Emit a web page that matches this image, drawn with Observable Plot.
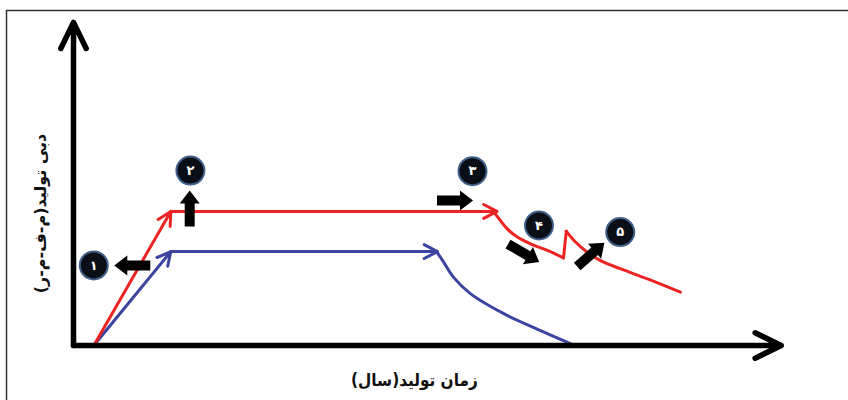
<!DOCTYPE html>
<html><head><meta charset="utf-8">
<script src="https://cdn.jsdelivr.net/npm/d3@7"></script>
<script src="https://cdn.jsdelivr.net/npm/@observablehq/plot@0.6"></script>
<style>html,body{margin:0;padding:0;background:#fff;overflow:hidden}</style>
</head><body><div id="chart"></div>
<script>
// ---- data (time units, rate units) ----
const redRampT = [2.9, 13.9, 60.5];
const redRampQ = [0, 44.7, 44.7];
const redDropT = [60.1, 60.9, 62.0, 63.4, 65.3, 67.7, 70.0];
const redDropQ = [44.4, 41.9, 38.8, 36.2, 33.9, 31.7, 29.2];
const redRecoverT = [70.4, 71.5, 73.4, 75.3, 78.1, 82.0, 86.7];
const redRecoverQ = [38.1, 35.0, 31.1, 28.3, 25.6, 22.2, 17.8];
const blueRampT = [2.9, 13.9, 52.0];
const blueRampQ = [0, 31.3, 31.3];
const blueDeclineT = [51.9, 52.9, 54.3, 56.7, 61.4, 66.0, 71.3];
const blueDeclineQ = [31.2, 27.7, 22.7, 17.3, 10.7, 5.7, 0.3];
const badgeLabels = ["۱", "۲", "۳", "۴", "۵"];
const badgeT = [2.9, 16.7, 57.0, 66.5, 78.1];
const badgeQ = [26.7, 58.3, 58.1, 40.0, 37.8];
const pointerT = [8.4, 16.6, 54.5, 64.3, 73.9];
const pointerQ = [26.7, 45.7, 48.3, 30.8, 30.3];
const pointerAngle = [270, 0, 90, 120, 49];
const axisEndT = 101.1;
const axisEndQ = 107.7;
const xTitle = "زمان تولید(سال)";
const yTitle = "دبی تولید(م-ف-م-ر)";
const xTitlePos = [48.7, -11.7];
const yTitlePos = [-4.7, 44];

// ---- derived tables ----
const segs = (T, Q) => T.slice(1).map((t, i) => ({x1: T[i], y1: Q[i], x2: t, y2: Q[i + 1]}));
const pts = (T, Q) => T.map((t, i) => ({t, q: Q[i]}));
const badges = badgeLabels.map((label, i) => ({label, t: badgeT[i], q: badgeQ[i]}));
const pointers = pointerT.map((t, i) => ({t, q: pointerQ[i], a: pointerAngle[i]}));
const axes = [{x1: 0, y1: 0, x2: 0, y2: axisEndQ}, {x1: 0, y1: 0, x2: axisEndT, y2: 0}];
const spike = [
  {t: redDropT[redDropT.length - 1], q: redDropQ[redDropQ.length - 1]},
  {t: redRecoverT[0], q: redRecoverQ[0]}
];

const RED = "#ee2424", BLUE = "#3b449e";

const blockArrow = {
  draw(ctx) {
    const L = 18, hl = 13, hw = 10, sw = 5;
    ctx.moveTo(-sw, L);
    ctx.lineTo(-sw, -L + hl);
    ctx.lineTo(-hw, -L + hl);
    ctx.lineTo(0, -L);
    ctx.lineTo(hw, -L + hl);
    ctx.lineTo(sw, -L + hl);
    ctx.lineTo(sw, L);
    ctx.closePath();
  }
};

const font = "DejaVu Sans, sans-serif";
const fontC = "DejaVu Sans Condensed, DejaVu Sans, sans-serif";
const lineStyle = {strokeWidth: 3, strokeLinejoin: "round", strokeLinecap: "round"};

const chart = Plot.plot({
  width: 848,
  height: 400,
  marginLeft: 73,
  marginRight: 75,
  marginTop: 45,
  marginBottom: 55,
  x: {domain: [0, 100], axis: null},
  y: {domain: [0, 100], axis: null},
  style: {background: "#fff"},
  marks: [
    Plot.frame({stroke: "#333", strokeWidth: 1.5, insetLeft: -67, insetTop: -35, insetRight: -80, insetBottom: -60}),
    Plot.line(pts(blueDeclineT, blueDeclineQ), {x: "t", y: "q", stroke: BLUE, curve: "catmull-rom", ...lineStyle}),
    Plot.arrow(segs(blueRampT, blueRampQ), {x1: "x1", y1: "y1", x2: "x2", y2: "y2", stroke: BLUE, headLength: 7.5, headAngle: 55, ...lineStyle}),
    Plot.line(pts(redDropT, redDropQ), {x: "t", y: "q", stroke: RED, curve: "catmull-rom", ...lineStyle}),
    Plot.line(spike, {x: "t", y: "q", stroke: RED, ...lineStyle}),
    Plot.line(pts(redRecoverT, redRecoverQ), {x: "t", y: "q", stroke: RED, curve: "catmull-rom", ...lineStyle}),
    Plot.arrow(segs(redRampT, redRampQ), {x1: "x1", y1: "y1", x2: "x2", y2: "y2", stroke: RED, headLength: 7.5, headAngle: 55, ...lineStyle}),
    Plot.arrow(axes, {x1: "x1", y1: "y1", x2: "x2", y2: "y2", stroke: "#000", strokeWidth: 5.5, headLength: 7.9, headAngle: 52, strokeLinejoin: "round", strokeLinecap: "round"}),
    Plot.dot(pointers, {x: "t", y: "q", rotate: "a", symbol: blockArrow, r: 10, fill: "#000", stroke: "none"}),
    Plot.dot(badges, {x: "t", y: "q", r: 14, fill: "#0a0e16", stroke: "#3e6089", strokeWidth: 2}),
    Plot.text(badges, {x: "t", y: "q", text: "label", fill: "#fff", fontSize: 13, fontWeight: "bold", fontFamily: font}),
    Plot.text([xTitle], {x: xTitlePos[0], y: xTitlePos[1], text: d => d, fontSize: 17, fontWeight: "bold", fontFamily: fontC, fill: "#111"}),
    Plot.text([yTitle], {x: yTitlePos[0], y: yTitlePos[1], text: d => d, rotate: -90, fontSize: 16, fontWeight: "bold", fontFamily: font, fill: "#111"})
  ]
});
document.getElementById("chart").appendChild(chart);
</script>
</body></html>
